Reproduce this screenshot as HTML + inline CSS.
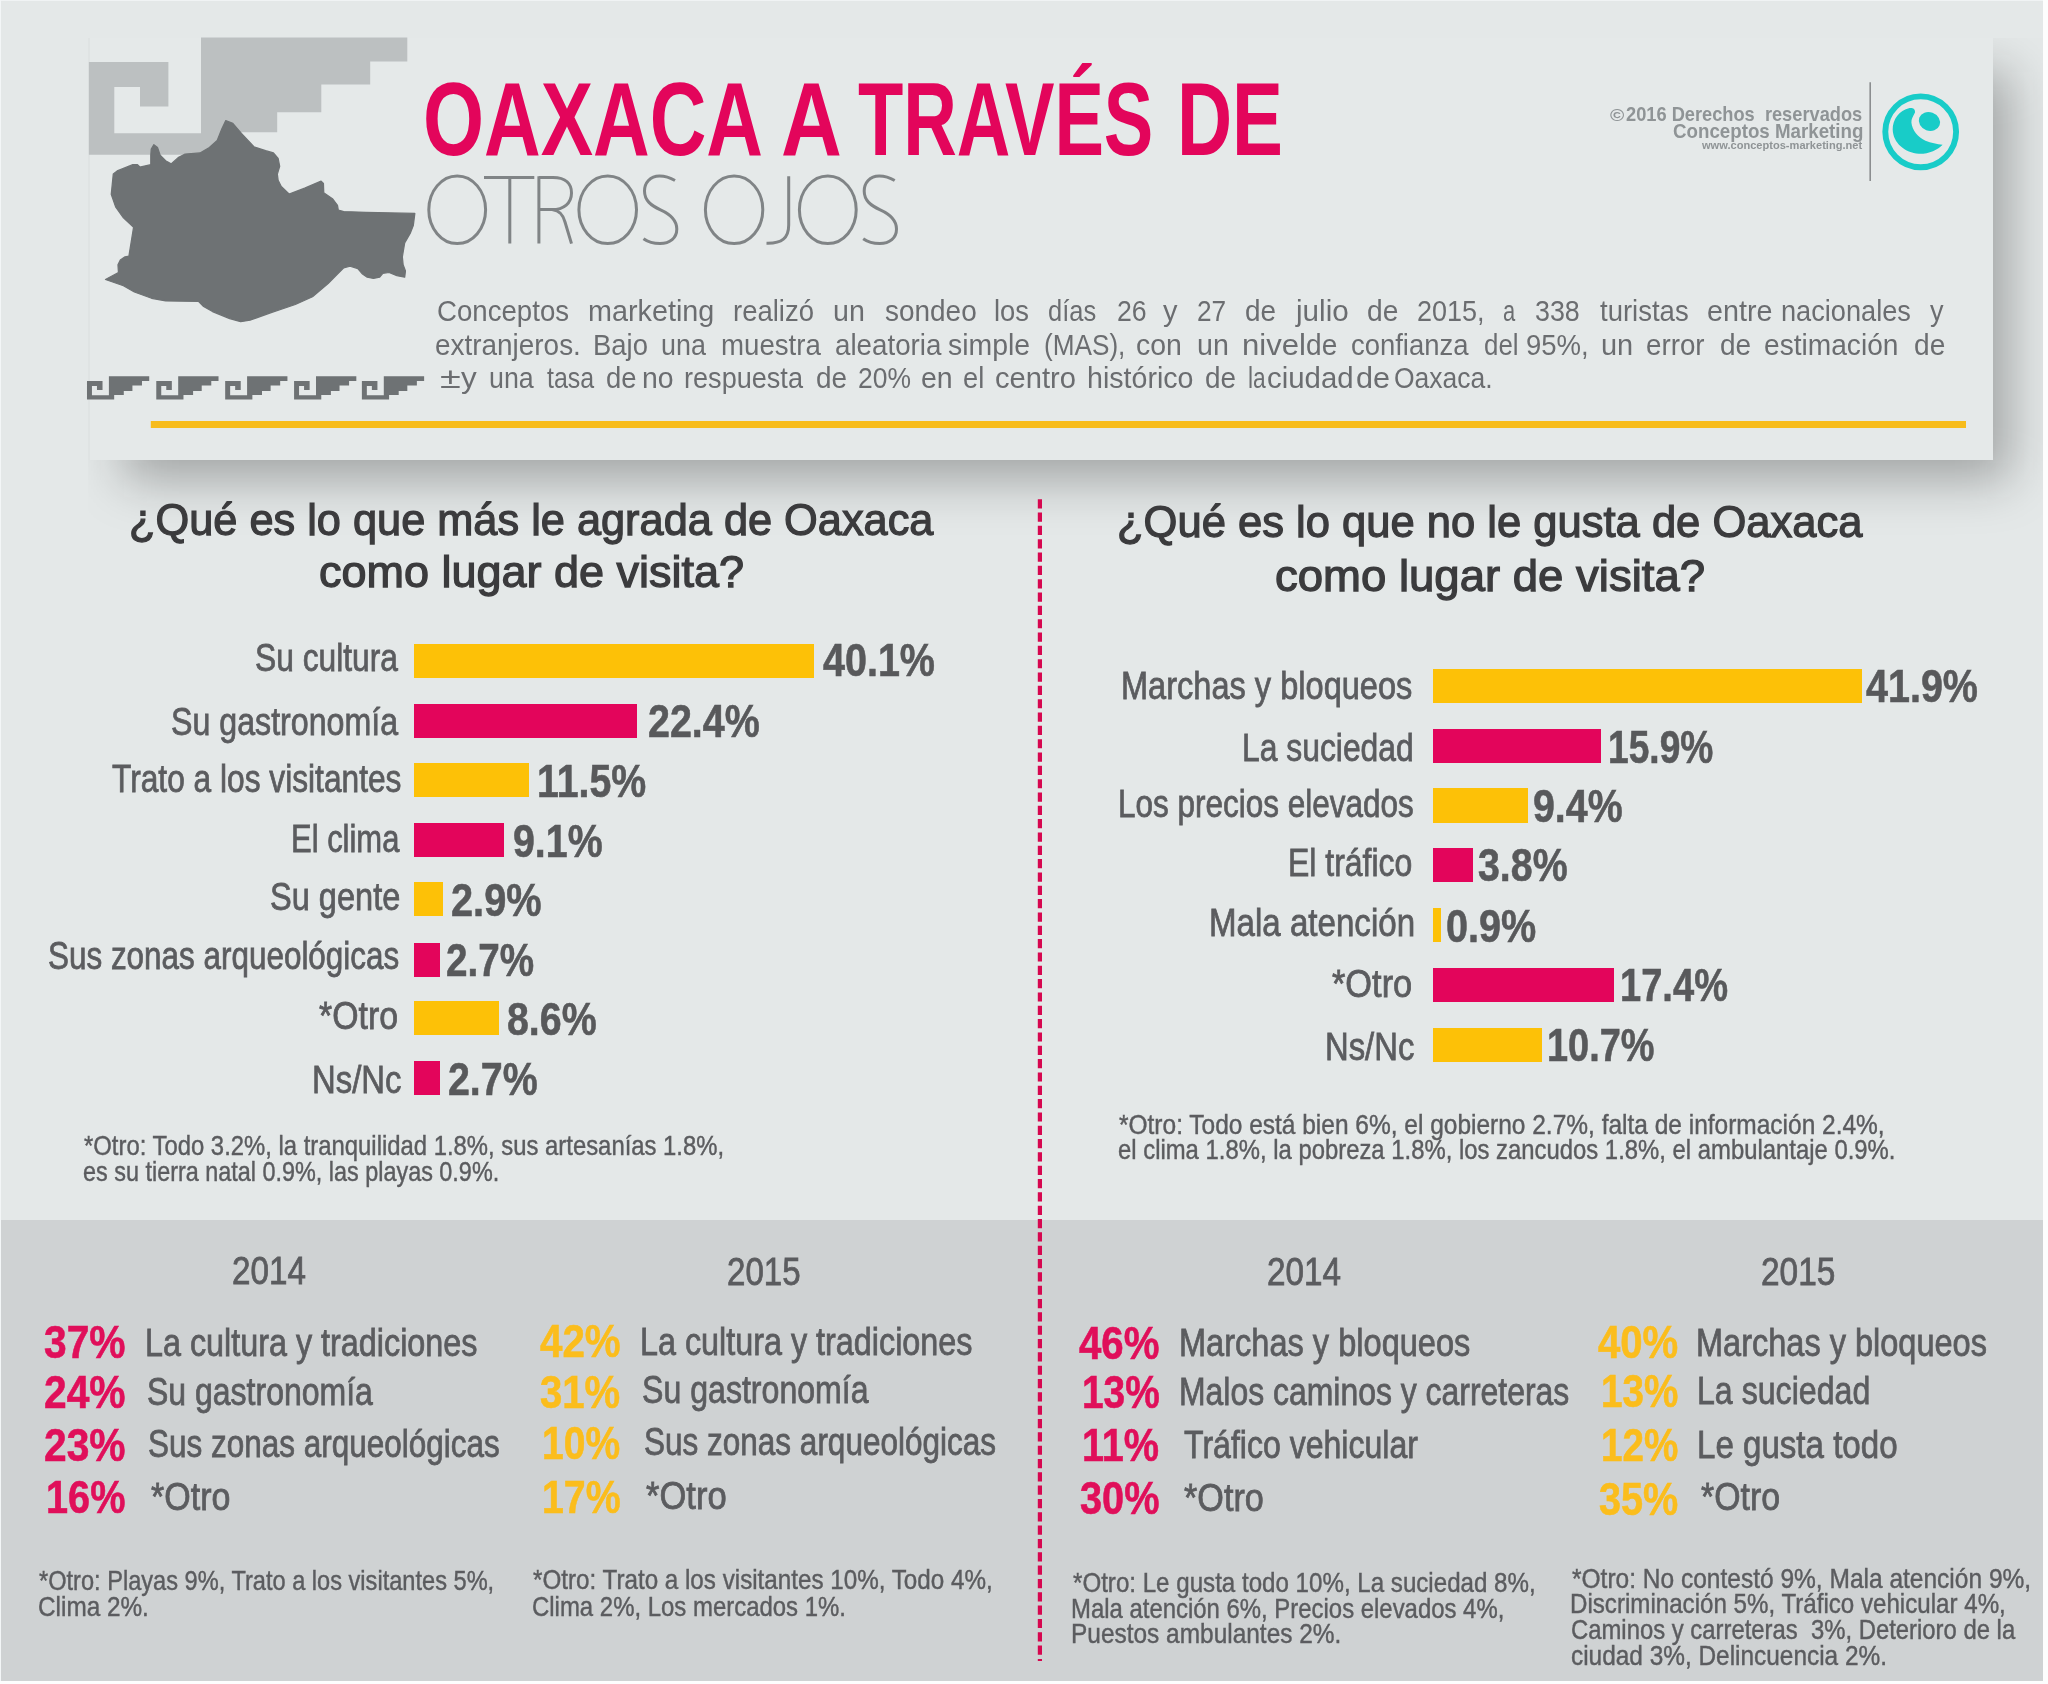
<!DOCTYPE html>
<html lang="es">
<head>
<meta charset="utf-8">
<title>Oaxaca a través de otros ojos</title>
<style>
html,body{margin:0;padding:0;}
body{width:2048px;height:1684px;overflow:hidden;background:#fdfdfd;font-family:"Liberation Sans",sans-serif;position:relative;}
#page{position:absolute;left:0;top:0;width:2043px;height:1681px;background:#e4e8e8;overflow:hidden;}
#band{position:absolute;left:0;top:1219.5px;width:2043px;height:462px;background:#cfd2d3;}
#card{position:absolute;left:88px;top:38px;width:1905px;height:421.5px;background:#e5e9e9;}
#shclip{position:absolute;left:88px;top:38px;width:1960px;height:700px;overflow:hidden;}
#shadow{position:absolute;left:36px;top:34px;width:1886px;height:408px;background:rgba(10,10,10,0.30);filter:blur(25px);}
#art{position:absolute;left:0;top:0;width:2048px;height:1684px;}
.t{position:absolute;white-space:pre;line-height:1;transform-origin:0 0;letter-spacing:0;}
.bar{position:absolute;}
.y{background:#fdc107;}
.m{background:#e3055b;}
</style>
</head>
<body>
<div id="page">
<div id="band"></div>
<div style="position:absolute;left:0;top:0;width:2043px;height:1px;background:#f0f3f4"></div>
<div style="position:absolute;left:0;top:0;width:1px;height:1681px;background:#f3f6f7"></div>
<div id="shclip"><div id="shadow"></div></div>
<div id="card"></div>
<div style="position:absolute;left:87.5px;top:38px;width:2.5px;height:421.5px;background:#dfe3e3"></div>

<svg id="art" viewBox="0 0 2048 1684" width="2048" height="1684">
  <defs>
    <path id="greca" d="M88.9,62 H168.4 V106.5 H140 V87 H114.3 V133.3 H201 V37.6 H407.3 V61.6 H370.2 V84.5 H321.3 V112.2 H277.2 V132.3 H228 V154.8 H88.9 Z"/>
  </defs>
  <!-- big greca -->
  <use href="#greca" fill="#bcc0c1"/>
  <!-- small grecas -->
  <g fill="#6e7274">
    <use href="#greca" transform="translate(69.6,368.7) scale(0.1955,0.199)"/>
    <use href="#greca" transform="translate(138.9,368.7) scale(0.1955,0.199)"/>
    <use href="#greca" transform="translate(207.8,368.7) scale(0.1955,0.199)"/>
    <use href="#greca" transform="translate(276.7,368.7) scale(0.1955,0.199)"/>
    <use href="#greca" transform="translate(344.5,368.7) scale(0.1955,0.199)"/>
  </g>
  <!-- Oaxaca map -->
  <g transform="translate(100,110) scale(0.15625)">
    <path fill="#6e7274" stroke="#6e7274" stroke-width="8" stroke-linejoin="round" d="M325,290 L328,250 L345,222 L368,240 L385,290 L420,325 L455,345 L500,305 L545,282 L640,275 L700,240 L750,195 L780,120 L805,68 L850,85 L905,150 L985,235 L1060,260 L1110,275 L1140,310 L1150,360 L1135,410 L1140,450 L1160,490 L1210,538 L1310,500 L1415,455 L1430,470 L1432,530 L1490,570 L1520,610 L1525,640 L1560,650 L1700,655 L2015,662 L2005,740 L1985,790 L1950,850 L1935,940 L1940,990 L1955,1030 L1950,1070 L1900,1060 L1850,1040 L1810,1045 L1790,1070 L1750,1078 L1710,1070 L1680,1050 L1650,1015 L1600,1000 L1560,1010 L1520,1050 L1460,1110 L1360,1195 L1250,1245 L1100,1295 L960,1345 L900,1355 L830,1335 L720,1290 L660,1255 L630,1225 L420,1222 L330,1205 L220,1165 L150,1125 L35,1085 L118,1040 L115,990 L130,960 L160,940 L185,935 L215,750 L150,690 L100,620 L72,540 L85,410 L110,390 L210,350 L240,350 L255,365 L325,350 Z"/>
  </g>
  <!-- OTROS OJOS (thin strokes) -->
  <g fill="none" stroke="#808486" stroke-width="3" stroke-linecap="butt">
    <ellipse cx="457.2" cy="209.8" rx="28.4" ry="33.8"/>
    <path d="M484,177.6 H534.3 M509.8,177.6 V243.6"/>
    <path d="M538.9,176.2 V243.6 M538.9,177.6 H553 C566,177.6 571.5,184 571.5,193 C571.5,203 564,209.6 552,209.6 H538.9 M552,209.6 C560,210.5 563,215 565,222 L571.5,243.6"/>
    <ellipse cx="607.7" cy="209.8" rx="28.8" ry="33.8"/>
    <path d="M675,180.5 C670,177.5 665,176 659.5,176 C650,176 644.5,183 644.5,191 C644.5,200.5 651,205.5 660.5,209.8 C671,214.5 676.8,220 676.8,229 C676.8,238 670,243.6 660,243.6 C654,243.6 648,242 643.5,238.8"/>
    <ellipse cx="734.1" cy="209.8" rx="28.7" ry="33.8"/>
    <path d="M788.7,176.2 V225 C788.7,238 782,243.6 766.5,243.2"/>
    <ellipse cx="827.8" cy="209.8" rx="28.4" ry="33.8"/>
    <path transform="translate(219.7,0)" d="M675,180.5 C670,177.5 665,176 659.5,176 C650,176 644.5,183 644.5,191 C644.5,200.5 651,205.5 660.5,209.8 C671,214.5 676.8,220 676.8,229 C676.8,238 670,243.6 660,243.6 C654,243.6 648,242 643.5,238.8"/>
  </g>
  <!-- yellow rule -->
  <rect x="150.8" y="421" width="1815.2" height="7" fill="#f7bc1c"/>
  <!-- logo -->
  <line x1="1870.2" y1="82.3" x2="1870.2" y2="180.9" stroke="#8b8e90" stroke-width="1.6"/>
  <g>
    <circle cx="1920.7" cy="131.8" r="35.4" fill="none" stroke="#18ccc8" stroke-width="5.9"/>
    <path fill="#18ccc8" d="M1909.6,108.1 C1912.5,107.6 1915.5,109 1915,112.5 C1913,116.5 1911.2,119 1911.4,122.5 C1912,130 1918,137.5 1925.5,140.7 C1931,143 1937,144 1942.6,144.7 C1938,150 1928,154.2 1918.8,153.8 C1905,153 1893,143 1892.7,129.6 C1892.5,120 1899,110.5 1909.6,108.1 Z"/>
    <ellipse cx="1929.4" cy="121.5" rx="10.8" ry="9.2" transform="rotate(20 1929.4 121.5)" fill="#18ccc8"/>
  </g>
  <!-- dashed divider -->
  <line x1="1039.9" y1="499.2" x2="1039.9" y2="1661" stroke="#d6074f" stroke-width="4.2" stroke-dasharray="9.2 4.13"/>
</svg>

<!-- left bars -->
<div class="bar y" style="left:414.2px;top:643.5px;width:399.8px;height:34.2px"></div>
<div class="bar m" style="left:414.2px;top:703.8px;width:222.8px;height:34px"></div>
<div class="bar y" style="left:414.2px;top:762.7px;width:114.8px;height:34.4px"></div>
<div class="bar m" style="left:414.2px;top:823px;width:89.9px;height:34.2px"></div>
<div class="bar y" style="left:414.2px;top:882.2px;width:29.1px;height:34.1px"></div>
<div class="bar m" style="left:414.2px;top:942.7px;width:25.4px;height:33.9px"></div>
<div class="bar y" style="left:414.2px;top:1001.1px;width:84.5px;height:33.9px"></div>
<div class="bar m" style="left:414.2px;top:1061.3px;width:25.4px;height:34.2px"></div>
<!-- right bars -->
<div class="bar y" style="left:1433px;top:669.1px;width:428.5px;height:34px"></div>
<div class="bar m" style="left:1433px;top:728.7px;width:168px;height:34.2px"></div>
<div class="bar y" style="left:1433px;top:788.3px;width:94.8px;height:34.3px"></div>
<div class="bar m" style="left:1433px;top:848.3px;width:40.3px;height:34.2px"></div>
<div class="bar y" style="left:1432.7px;top:908.2px;width:8.6px;height:33.9px"></div>
<div class="bar m" style="left:1433px;top:968.1px;width:181.2px;height:33.9px"></div>
<div class="bar y" style="left:1433px;top:1027.8px;width:109.1px;height:34.2px"></div>

<div id="texts" style="position:absolute;left:0;top:0;width:2043px;height:1681px;will-change:transform;">
<span class="t" style="left:423.30px;top:67.34px;font-size:104.5px;font-weight:700;color:#e3055b;transform:scaleX(0.7507);">OAXACA</span>
<span class="t" style="left:781.19px;top:67.34px;font-size:104.5px;font-weight:700;color:#e3055b;transform:scaleX(0.8056);">A</span>
<span class="t" style="left:858.39px;top:67.34px;font-size:104.5px;font-weight:700;color:#e3055b;transform:scaleX(0.7097);">TRAVÉS</span>
<span class="t" style="left:1177.02px;top:67.34px;font-size:104.5px;font-weight:700;color:#e3055b;transform:scaleX(0.7300);">DE</span>
<span class="t" style="left:436.63px;top:296.89px;font-size:28.6px;font-weight:400;color:#6b6d70;transform:scaleX(0.9660);">Conceptos</span>
<span class="t" style="left:587.69px;top:296.89px;font-size:28.6px;font-weight:400;color:#6b6d70;transform:scaleX(1.0061);">marketing</span>
<span class="t" style="left:733.24px;top:296.89px;font-size:28.6px;font-weight:400;color:#6b6d70;transform:scaleX(0.9620);">realizó</span>
<span class="t" style="left:833.30px;top:296.89px;font-size:28.6px;font-weight:400;color:#6b6d70;transform:scaleX(0.9997);">un</span>
<span class="t" style="left:884.60px;top:296.89px;font-size:28.6px;font-weight:400;color:#6b6d70;transform:scaleX(0.9773);">sondeo</span>
<span class="t" style="left:993.94px;top:296.89px;font-size:28.6px;font-weight:400;color:#6b6d70;transform:scaleX(0.9584);">los</span>
<span class="t" style="left:1048.11px;top:296.89px;font-size:28.6px;font-weight:400;color:#6b6d70;transform:scaleX(0.8910);">días</span>
<span class="t" style="left:1116.67px;top:296.89px;font-size:28.6px;font-weight:400;color:#6b6d70;transform:scaleX(0.9328);">26</span>
<span class="t" style="left:1163.30px;top:296.89px;font-size:28.6px;font-weight:400;color:#6b6d70;transform:scaleX(1.0133);">y</span>
<span class="t" style="left:1196.68px;top:296.89px;font-size:28.6px;font-weight:400;color:#6b6d70;transform:scaleX(0.9161);">27</span>
<span class="t" style="left:1245.32px;top:296.89px;font-size:28.6px;font-weight:400;color:#6b6d70;transform:scaleX(0.9763);">de</span>
<span class="t" style="left:1295.64px;top:296.89px;font-size:28.6px;font-weight:400;color:#6b6d70;transform:scaleX(1.0359);">julio</span>
<span class="t" style="left:1367.01px;top:296.89px;font-size:28.6px;font-weight:400;color:#6b6d70;transform:scaleX(0.9863);">de</span>
<span class="t" style="left:1417.16px;top:296.89px;font-size:28.6px;font-weight:400;color:#6b6d70;transform:scaleX(0.9444);">2015,</span>
<span class="t" style="left:1502.73px;top:296.89px;font-size:28.6px;font-weight:400;color:#6b6d70;transform:scaleX(0.7665);">a</span>
<span class="t" style="left:1535.26px;top:296.89px;font-size:28.6px;font-weight:400;color:#6b6d70;transform:scaleX(0.9385);">338</span>
<span class="t" style="left:1599.80px;top:296.89px;font-size:28.6px;font-weight:400;color:#6b6d70;transform:scaleX(0.9622);">turistas</span>
<span class="t" style="left:1706.80px;top:296.89px;font-size:28.6px;font-weight:400;color:#6b6d70;transform:scaleX(1.0050);">entre</span>
<span class="t" style="left:1781.05px;top:296.89px;font-size:28.6px;font-weight:400;color:#6b6d70;transform:scaleX(0.9504);">nacionales</span>
<span class="t" style="left:1930.40px;top:296.89px;font-size:28.6px;font-weight:400;color:#6b6d70;transform:scaleX(0.9467);">y</span>
<span class="t" style="left:435.32px;top:330.79px;font-size:28.6px;font-weight:400;color:#6b6d70;transform:scaleX(0.9764);">extranjeros.</span>
<span class="t" style="left:593.08px;top:330.79px;font-size:28.6px;font-weight:400;color:#6b6d70;transform:scaleX(0.9589);">Bajo</span>
<span class="t" style="left:661.36px;top:330.79px;font-size:28.6px;font-weight:400;color:#6b6d70;transform:scaleX(0.9398);">una</span>
<span class="t" style="left:721.03px;top:330.79px;font-size:28.6px;font-weight:400;color:#6b6d70;transform:scaleX(0.9668);">muestra</span>
<span class="t" style="left:835.33px;top:330.79px;font-size:28.6px;font-weight:400;color:#6b6d70;transform:scaleX(0.9698);">aleatoria</span>
<span class="t" style="left:948.20px;top:330.79px;font-size:28.6px;font-weight:400;color:#6b6d70;transform:scaleX(0.9946);">simple</span>
<span class="t" style="left:1044.28px;top:330.79px;font-size:28.6px;font-weight:400;color:#6b6d70;transform:scaleX(0.9150);">(MAS),</span>
<span class="t" style="left:1136.10px;top:330.79px;font-size:28.6px;font-weight:400;color:#6b6d70;transform:scaleX(0.9953);">con</span>
<span class="t" style="left:1196.60px;top:330.79px;font-size:28.6px;font-weight:400;color:#6b6d70;transform:scaleX(0.9997);">un</span>
<span class="t" style="left:1241.71px;top:330.79px;font-size:28.6px;font-weight:400;color:#6b6d70;transform:scaleX(1.0875);">nivel</span>
<span class="t" style="left:1306.32px;top:330.79px;font-size:28.6px;font-weight:400;color:#6b6d70;transform:scaleX(0.9829);">de</span>
<span class="t" style="left:1351.14px;top:330.79px;font-size:28.6px;font-weight:400;color:#6b6d70;transform:scaleX(0.9596);">confianza</span>
<span class="t" style="left:1483.80px;top:330.79px;font-size:28.6px;font-weight:400;color:#6b6d70;transform:scaleX(0.9045);">del</span>
<span class="t" style="left:1525.84px;top:330.79px;font-size:28.6px;font-weight:400;color:#6b6d70;transform:scaleX(0.9624);">95%,</span>
<span class="t" style="left:1600.89px;top:330.79px;font-size:28.6px;font-weight:400;color:#6b6d70;transform:scaleX(1.0130);">un</span>
<span class="t" style="left:1646.33px;top:330.79px;font-size:28.6px;font-weight:400;color:#6b6d70;transform:scaleX(0.9707);">error</span>
<span class="t" style="left:1719.92px;top:330.79px;font-size:28.6px;font-weight:400;color:#6b6d70;transform:scaleX(0.9796);">de</span>
<span class="t" style="left:1764.42px;top:330.79px;font-size:28.6px;font-weight:400;color:#6b6d70;transform:scaleX(0.9838);">estimación</span>
<span class="t" style="left:1913.62px;top:330.79px;font-size:28.6px;font-weight:400;color:#6b6d70;transform:scaleX(0.9829);">de</span>
<span class="t" style="left:439.60px;top:364.29px;font-size:28.6px;font-weight:400;color:#6b6d70;transform:scaleX(1.3258);">±</span>
<span class="t" style="left:460.50px;top:364.29px;font-size:28.6px;font-weight:400;color:#6b6d70;transform:scaleX(1.1000);">y</span>
<span class="t" style="left:488.76px;top:364.29px;font-size:28.6px;font-weight:400;color:#6b6d70;transform:scaleX(0.9377);">una</span>
<span class="t" style="left:547.30px;top:364.29px;font-size:28.6px;font-weight:400;color:#6b6d70;transform:scaleX(0.8717);">tasa</span>
<span class="t" style="left:606.04px;top:364.29px;font-size:28.6px;font-weight:400;color:#6b6d70;transform:scaleX(0.9595);">de</span>
<span class="t" style="left:641.81px;top:364.29px;font-size:28.6px;font-weight:400;color:#6b6d70;transform:scaleX(0.9930);">no</span>
<span class="t" style="left:684.25px;top:364.29px;font-size:28.6px;font-weight:400;color:#6b6d70;transform:scaleX(0.9473);">respuesta</span>
<span class="t" style="left:815.52px;top:364.29px;font-size:28.6px;font-weight:400;color:#6b6d70;transform:scaleX(0.9763);">de</span>
<span class="t" style="left:858.18px;top:364.29px;font-size:28.6px;font-weight:400;color:#6b6d70;transform:scaleX(0.9246);">20%</span>
<span class="t" style="left:921.00px;top:364.29px;font-size:28.6px;font-weight:400;color:#6b6d70;transform:scaleX(0.9963);">en</span>
<span class="t" style="left:963.05px;top:364.29px;font-size:28.6px;font-weight:400;color:#6b6d70;transform:scaleX(0.9542);">el</span>
<span class="t" style="left:995.18px;top:364.29px;font-size:28.6px;font-weight:400;color:#6b6d70;transform:scaleX(1.0183);">centro</span>
<span class="t" style="left:1086.90px;top:364.29px;font-size:28.6px;font-weight:400;color:#6b6d70;transform:scaleX(1.0002);">histórico</span>
<span class="t" style="left:1204.72px;top:364.29px;font-size:28.6px;font-weight:400;color:#6b6d70;transform:scaleX(0.9763);">de</span>
<span class="t" style="left:1247.60px;top:364.29px;font-size:28.6px;font-weight:400;color:#6b6d70;transform:scaleX(0.7958);">la</span>
<span class="t" style="left:1266.87px;top:364.29px;font-size:28.6px;font-weight:400;color:#6b6d70;transform:scaleX(1.0272);">ciudad</span>
<span class="t" style="left:1355.93px;top:364.29px;font-size:28.6px;font-weight:400;color:#6b6d70;transform:scaleX(1.0699);">de</span>
<span class="t" style="left:1393.57px;top:364.29px;font-size:28.6px;font-weight:400;color:#6b6d70;transform:scaleX(0.9270);">Oaxaca.</span>
<span class="t" style="left:1610.30px;top:106.87px;font-size:17.4px;font-weight:700;color:#8f9496;transform:scaleX(1.1141);">©</span>
<span class="t" style="left:1625.70px;top:104.30px;font-size:20.2px;font-weight:700;color:#8f9496;transform:scaleX(0.9033);">2016 Derechos  reservados</span>
<span class="t" style="left:1672.50px;top:121.40px;font-size:20.2px;font-weight:700;color:#8f9496;transform:scaleX(0.9277);">Conceptos Marketing</span>
<span class="t" style="left:1701.91px;top:140.39px;font-size:11px;font-weight:700;color:#8f9496;transform:scaleX(1.0065);">www.conceptos-marketing.net</span>
<span class="t" style="left:129.03px;top:498.25px;font-size:44px;font-weight:400;color:#3b3b3d;transform:scaleX(0.9847);-webkit-text-stroke:1.25px currentColor;">¿Qué es lo que más le agrada de Oaxaca</span>
<span class="t" style="left:318.98px;top:550.25px;font-size:44px;font-weight:400;color:#3b3b3d;transform:scaleX(1.0223);-webkit-text-stroke:1.25px currentColor;">como lugar de visita?</span>
<span class="t" style="left:1117.02px;top:500.25px;font-size:44px;font-weight:400;color:#3b3b3d;transform:scaleX(0.9895);-webkit-text-stroke:1.25px currentColor;">¿Qué es lo que no le gusta de Oaxaca</span>
<span class="t" style="left:1275.47px;top:554.25px;font-size:44px;font-weight:400;color:#3b3b3d;transform:scaleX(1.0344);-webkit-text-stroke:1.25px currentColor;">como lugar de visita?</span>
<span class="t" style="left:254.50px;top:637.98px;font-size:39.6px;font-weight:400;color:#5b5c5f;transform:scaleX(0.8025);-webkit-text-stroke:0.8px currentColor;">Su cultura</span>
<span class="t" style="left:170.89px;top:701.98px;font-size:39.6px;font-weight:400;color:#5b5c5f;transform:scaleX(0.8128);-webkit-text-stroke:0.8px currentColor;">Su gastronomía</span>
<span class="t" style="left:111.50px;top:759.48px;font-size:39.6px;font-weight:400;color:#5b5c5f;transform:scaleX(0.8007);-webkit-text-stroke:0.8px currentColor;">Trato a los visitantes</span>
<span class="t" style="left:291.15px;top:818.98px;font-size:39.6px;font-weight:400;color:#5b5c5f;transform:scaleX(0.7822);-webkit-text-stroke:0.8px currentColor;">El clima</span>
<span class="t" style="left:269.88px;top:877.48px;font-size:39.6px;font-weight:400;color:#5b5c5f;transform:scaleX(0.8227);-webkit-text-stroke:0.8px currentColor;">Su gente</span>
<span class="t" style="left:48.21px;top:936.48px;font-size:39.6px;font-weight:400;color:#5b5c5f;transform:scaleX(0.7942);-webkit-text-stroke:0.8px currentColor;">Sus zonas arqueológicas</span>
<span class="t" style="left:319.30px;top:995.98px;font-size:39.6px;font-weight:400;color:#5b5c5f;transform:scaleX(0.8559);-webkit-text-stroke:0.8px currentColor;">*Otro</span>
<span class="t" style="left:311.51px;top:1060.48px;font-size:39.6px;font-weight:400;color:#5b5c5f;transform:scaleX(0.8301);-webkit-text-stroke:0.8px currentColor;">Ns/Nc</span>
<span class="t" style="left:823.40px;top:636.91px;font-size:46.3px;font-weight:700;color:#58595b;transform:scaleX(0.8531);-webkit-text-stroke:0.6px currentColor;">40.1%</span>
<span class="t" style="left:648.15px;top:698.31px;font-size:46.3px;font-weight:700;color:#58595b;transform:scaleX(0.8519);-webkit-text-stroke:0.6px currentColor;">22.4%</span>
<span class="t" style="left:537.20px;top:758.21px;font-size:46.3px;font-weight:700;color:#58595b;transform:scaleX(0.8490);-webkit-text-stroke:0.6px currentColor;">11.5%</span>
<span class="t" style="left:512.95px;top:818.31px;font-size:46.3px;font-weight:700;color:#58595b;transform:scaleX(0.8494);-webkit-text-stroke:0.6px currentColor;">9.1%</span>
<span class="t" style="left:451.44px;top:877.11px;font-size:46.3px;font-weight:700;color:#58595b;transform:scaleX(0.8581);-webkit-text-stroke:0.6px currentColor;">2.9%</span>
<span class="t" style="left:446.37px;top:936.81px;font-size:46.3px;font-weight:700;color:#58595b;transform:scaleX(0.8349);-webkit-text-stroke:0.6px currentColor;">2.7%</span>
<span class="t" style="left:506.85px;top:995.81px;font-size:46.3px;font-weight:700;color:#58595b;transform:scaleX(0.8494);-webkit-text-stroke:0.6px currentColor;">8.6%</span>
<span class="t" style="left:447.85px;top:1056.31px;font-size:46.3px;font-weight:700;color:#58595b;transform:scaleX(0.8494);-webkit-text-stroke:0.6px currentColor;">2.7%</span>
<span class="t" style="left:84.00px;top:1130.77px;font-size:28.5px;font-weight:400;color:#5b5c5f;transform:scaleX(0.8371);-webkit-text-stroke:0.45px currentColor;">*Otro: Todo 3.2%, la tranquilidad 1.8%, sus artesanías 1.8%,</span>
<span class="t" style="left:83.38px;top:1156.77px;font-size:28.5px;font-weight:400;color:#5b5c5f;transform:scaleX(0.8210);-webkit-text-stroke:0.45px currentColor;">es su tierra natal 0.9%, las playas 0.9%.</span>
<span class="t" style="left:1121.13px;top:665.78px;font-size:39.6px;font-weight:400;color:#5b5c5f;transform:scaleX(0.8225);-webkit-text-stroke:0.8px currentColor;">Marchas y bloqueos</span>
<span class="t" style="left:1242.29px;top:727.88px;font-size:39.6px;font-weight:400;color:#5b5c5f;transform:scaleX(0.8045);-webkit-text-stroke:0.8px currentColor;">La suciedad</span>
<span class="t" style="left:1118.21px;top:783.88px;font-size:39.6px;font-weight:400;color:#5b5c5f;transform:scaleX(0.7953);-webkit-text-stroke:0.8px currentColor;">Los precios elevados</span>
<span class="t" style="left:1288.28px;top:843.48px;font-size:39.6px;font-weight:400;color:#5b5c5f;transform:scaleX(0.8076);-webkit-text-stroke:0.8px currentColor;">El tráfico</span>
<span class="t" style="left:1208.99px;top:902.78px;font-size:39.6px;font-weight:400;color:#5b5c5f;transform:scaleX(0.8363);-webkit-text-stroke:0.8px currentColor;">Mala atención</span>
<span class="t" style="left:1331.70px;top:963.98px;font-size:39.6px;font-weight:400;color:#5b5c5f;transform:scaleX(0.8680);-webkit-text-stroke:0.8px currentColor;">*Otro</span>
<span class="t" style="left:1324.71px;top:1027.48px;font-size:39.6px;font-weight:400;color:#5b5c5f;transform:scaleX(0.8292);-webkit-text-stroke:0.8px currentColor;">Ns/Nc</span>
<span class="t" style="left:1865.50px;top:663.31px;font-size:46.3px;font-weight:700;color:#58595b;transform:scaleX(0.8531);-webkit-text-stroke:0.6px currentColor;">41.9%</span>
<span class="t" style="left:1608.49px;top:723.71px;font-size:46.3px;font-weight:700;color:#58595b;transform:scaleX(0.8032);-webkit-text-stroke:0.6px currentColor;">15.9%</span>
<span class="t" style="left:1532.65px;top:783.41px;font-size:46.3px;font-weight:700;color:#58595b;transform:scaleX(0.8494);-webkit-text-stroke:0.6px currentColor;">9.4%</span>
<span class="t" style="left:1477.55px;top:842.41px;font-size:46.3px;font-weight:700;color:#58595b;transform:scaleX(0.8494);-webkit-text-stroke:0.6px currentColor;">3.8%</span>
<span class="t" style="left:1445.84px;top:902.91px;font-size:46.3px;font-weight:700;color:#58595b;transform:scaleX(0.8552);-webkit-text-stroke:0.6px currentColor;">0.9%</span>
<span class="t" style="left:1619.75px;top:962.21px;font-size:46.3px;font-weight:700;color:#58595b;transform:scaleX(0.8227);-webkit-text-stroke:0.6px currentColor;">17.4%</span>
<span class="t" style="left:1546.56px;top:1021.81px;font-size:46.3px;font-weight:700;color:#58595b;transform:scaleX(0.8196);-webkit-text-stroke:0.6px currentColor;">10.7%</span>
<span class="t" style="left:1119.00px;top:1109.87px;font-size:28.5px;font-weight:400;color:#5b5c5f;transform:scaleX(0.8589);-webkit-text-stroke:0.45px currentColor;">*Otro: Todo está bien 6%, el gobierno 2.7%, falta de información 2.4%,</span>
<span class="t" style="left:1118.16px;top:1134.87px;font-size:28.5px;font-weight:400;color:#5b5c5f;transform:scaleX(0.8374);-webkit-text-stroke:0.45px currentColor;">el clima 1.8%, la pobreza 1.8%, los zancudos 1.8%, el ambulantaje 0.9%.</span>
<span class="t" style="left:232.04px;top:1252.29px;font-size:38.4px;font-weight:400;color:#5b5c5f;transform:scaleX(0.8649);-webkit-text-stroke:0.8px currentColor;">2014</span>
<span class="t" style="left:727.04px;top:1252.79px;font-size:38.4px;font-weight:400;color:#5b5c5f;transform:scaleX(0.8609);-webkit-text-stroke:0.8px currentColor;">2015</span>
<span class="t" style="left:1266.83px;top:1252.69px;font-size:38.4px;font-weight:400;color:#5b5c5f;transform:scaleX(0.8673);-webkit-text-stroke:0.8px currentColor;">2014</span>
<span class="t" style="left:1760.53px;top:1252.99px;font-size:38.4px;font-weight:400;color:#5b5c5f;transform:scaleX(0.8705);-webkit-text-stroke:0.8px currentColor;">2015</span>
<span class="t" style="left:44.01px;top:1320.40px;font-size:45.6px;font-weight:700;color:#e00f5a;transform:scaleX(0.8938);-webkit-text-stroke:0.6px currentColor;">37%</span>
<span class="t" style="left:44.01px;top:1369.50px;font-size:45.6px;font-weight:700;color:#e00f5a;transform:scaleX(0.8938);-webkit-text-stroke:0.6px currentColor;">24%</span>
<span class="t" style="left:44.01px;top:1422.50px;font-size:45.6px;font-weight:700;color:#e00f5a;transform:scaleX(0.8938);-webkit-text-stroke:0.6px currentColor;">23%</span>
<span class="t" style="left:46.16px;top:1475.30px;font-size:45.6px;font-weight:700;color:#e00f5a;transform:scaleX(0.8701);-webkit-text-stroke:0.6px currentColor;">16%</span>
<span class="t" style="left:145.05px;top:1322.78px;font-size:39.6px;font-weight:400;color:#5b5c5f;transform:scaleX(0.8169);-webkit-text-stroke:0.8px currentColor;">La cultura y tradiciones</span>
<span class="t" style="left:147.39px;top:1372.08px;font-size:39.6px;font-weight:400;color:#5b5c5f;transform:scaleX(0.8085);-webkit-text-stroke:0.8px currentColor;">Su gastronomía</span>
<span class="t" style="left:148.20px;top:1423.58px;font-size:39.6px;font-weight:400;color:#5b5c5f;transform:scaleX(0.7953);-webkit-text-stroke:0.8px currentColor;">Sus zonas arqueológicas</span>
<span class="t" style="left:150.70px;top:1476.68px;font-size:39.6px;font-weight:400;color:#5b5c5f;transform:scaleX(0.8592);-webkit-text-stroke:0.8px currentColor;">*Otro</span>
<span class="t" style="left:539.90px;top:1319.20px;font-size:45.6px;font-weight:700;color:#fbbd1c;transform:scaleX(0.8840);-webkit-text-stroke:0.6px currentColor;">42%</span>
<span class="t" style="left:540.32px;top:1369.50px;font-size:45.6px;font-weight:700;color:#fbbd1c;transform:scaleX(0.8793);-webkit-text-stroke:0.6px currentColor;">31%</span>
<span class="t" style="left:542.49px;top:1421.30px;font-size:45.6px;font-weight:700;color:#fbbd1c;transform:scaleX(0.8554);-webkit-text-stroke:0.6px currentColor;">10%</span>
<span class="t" style="left:541.98px;top:1474.60px;font-size:45.6px;font-weight:700;color:#fbbd1c;transform:scaleX(0.8611);-webkit-text-stroke:0.6px currentColor;">17%</span>
<span class="t" style="left:640.05px;top:1321.78px;font-size:39.6px;font-weight:400;color:#5b5c5f;transform:scaleX(0.8169);-webkit-text-stroke:0.8px currentColor;">La cultura y tradiciones</span>
<span class="t" style="left:642.49px;top:1370.28px;font-size:39.6px;font-weight:400;color:#5b5c5f;transform:scaleX(0.8110);-webkit-text-stroke:0.8px currentColor;">Su gastronomía</span>
<span class="t" style="left:644.20px;top:1421.88px;font-size:39.6px;font-weight:400;color:#5b5c5f;transform:scaleX(0.7960);-webkit-text-stroke:0.8px currentColor;">Sus zonas arqueológicas</span>
<span class="t" style="left:645.70px;top:1475.88px;font-size:39.6px;font-weight:400;color:#5b5c5f;transform:scaleX(0.8723);-webkit-text-stroke:0.8px currentColor;">*Otro</span>
<span class="t" style="left:1079.00px;top:1320.70px;font-size:45.6px;font-weight:700;color:#e00f5a;transform:scaleX(0.8818);-webkit-text-stroke:0.6px currentColor;">46%</span>
<span class="t" style="left:1081.70px;top:1370.30px;font-size:45.6px;font-weight:700;color:#e00f5a;transform:scaleX(0.8521);-webkit-text-stroke:0.6px currentColor;">13%</span>
<span class="t" style="left:1082.36px;top:1422.80px;font-size:45.6px;font-weight:700;color:#e00f5a;transform:scaleX(0.8688);-webkit-text-stroke:0.6px currentColor;">11%</span>
<span class="t" style="left:1079.93px;top:1476.40px;font-size:45.6px;font-weight:700;color:#e00f5a;transform:scaleX(0.8715);-webkit-text-stroke:0.6px currentColor;">30%</span>
<span class="t" style="left:1179.43px;top:1323.28px;font-size:39.6px;font-weight:400;color:#5b5c5f;transform:scaleX(0.8225);-webkit-text-stroke:0.8px currentColor;">Marchas y bloqueos</span>
<span class="t" style="left:1179.48px;top:1371.58px;font-size:39.6px;font-weight:400;color:#5b5c5f;transform:scaleX(0.8065);-webkit-text-stroke:0.8px currentColor;">Malos caminos y carreteras</span>
<span class="t" style="left:1183.70px;top:1425.38px;font-size:39.6px;font-weight:400;color:#5b5c5f;transform:scaleX(0.8099);-webkit-text-stroke:0.8px currentColor;">Tráfico vehicular</span>
<span class="t" style="left:1183.70px;top:1477.68px;font-size:39.6px;font-weight:400;color:#5b5c5f;transform:scaleX(0.8636);-webkit-text-stroke:0.8px currentColor;">*Otro</span>
<span class="t" style="left:1598.00px;top:1320.40px;font-size:45.6px;font-weight:700;color:#fbbd1c;transform:scaleX(0.8796);-webkit-text-stroke:0.6px currentColor;">40%</span>
<span class="t" style="left:1601.01px;top:1369.40px;font-size:45.6px;font-weight:700;color:#fbbd1c;transform:scaleX(0.8464);-webkit-text-stroke:0.6px currentColor;">13%</span>
<span class="t" style="left:1601.01px;top:1422.60px;font-size:45.6px;font-weight:700;color:#fbbd1c;transform:scaleX(0.8464);-webkit-text-stroke:0.6px currentColor;">12%</span>
<span class="t" style="left:1599.03px;top:1476.80px;font-size:45.6px;font-weight:700;color:#fbbd1c;transform:scaleX(0.8682);-webkit-text-stroke:0.6px currentColor;">35%</span>
<span class="t" style="left:1696.34px;top:1323.18px;font-size:39.6px;font-weight:400;color:#5b5c5f;transform:scaleX(0.8213);-webkit-text-stroke:0.8px currentColor;">Marchas y bloqueos</span>
<span class="t" style="left:1697.06px;top:1370.98px;font-size:39.6px;font-weight:400;color:#5b5c5f;transform:scaleX(0.8117);-webkit-text-stroke:0.8px currentColor;">La suciedad</span>
<span class="t" style="left:1696.99px;top:1424.68px;font-size:39.6px;font-weight:400;color:#5b5c5f;transform:scaleX(0.8361);-webkit-text-stroke:0.8px currentColor;">Le gusta todo</span>
<span class="t" style="left:1700.70px;top:1477.18px;font-size:39.6px;font-weight:400;color:#5b5c5f;transform:scaleX(0.8559);-webkit-text-stroke:0.8px currentColor;">*Otro</span>
<span class="t" style="left:38.80px;top:1566.37px;font-size:28.5px;font-weight:400;color:#5b5c5f;transform:scaleX(0.8281);-webkit-text-stroke:0.45px currentColor;">*Otro: Playas 9%, Trato a los visitantes 5%,</span>
<span class="t" style="left:37.95px;top:1592.37px;font-size:28.5px;font-weight:400;color:#5b5c5f;transform:scaleX(0.8538);-webkit-text-stroke:0.45px currentColor;">Clima 2%.</span>
<span class="t" style="left:533.00px;top:1565.47px;font-size:28.5px;font-weight:400;color:#5b5c5f;transform:scaleX(0.8492);-webkit-text-stroke:0.45px currentColor;">*Otro: Trato a los visitantes 10%, Todo 4%,</span>
<span class="t" style="left:532.16px;top:1591.57px;font-size:28.5px;font-weight:400;color:#5b5c5f;transform:scaleX(0.8399);-webkit-text-stroke:0.45px currentColor;">Clima 2%, Los mercados 1%.</span>
<span class="t" style="left:1073.00px;top:1567.87px;font-size:28.5px;font-weight:400;color:#5b5c5f;transform:scaleX(0.8464);-webkit-text-stroke:0.45px currentColor;">*Otro: Le gusta todo 10%, La suciedad 8%,</span>
<span class="t" style="left:1071.32px;top:1593.87px;font-size:28.5px;font-weight:400;color:#5b5c5f;transform:scaleX(0.8390);-webkit-text-stroke:0.45px currentColor;">Mala atención 6%, Precios elevados 4%,</span>
<span class="t" style="left:1071.28px;top:1619.37px;font-size:28.5px;font-weight:400;color:#5b5c5f;transform:scaleX(0.8575);-webkit-text-stroke:0.45px currentColor;">Puestos ambulantes 2%.</span>
<span class="t" style="left:1571.50px;top:1564.37px;font-size:28.5px;font-weight:400;color:#5b5c5f;transform:scaleX(0.8600);-webkit-text-stroke:0.45px currentColor;">*Otro: No contestó 9%, Mala atención 9%,</span>
<span class="t" style="left:1569.81px;top:1589.37px;font-size:28.5px;font-weight:400;color:#5b5c5f;transform:scaleX(0.8466);-webkit-text-stroke:0.45px currentColor;">Discriminación 5%, Tráfico vehicular 4%,</span>
<span class="t" style="left:1570.66px;top:1615.37px;font-size:28.5px;font-weight:400;color:#5b5c5f;transform:scaleX(0.8371);-webkit-text-stroke:0.45px currentColor;">Caminos y carreteras  3%, Deterioro de la</span>
<span class="t" style="left:1570.64px;top:1641.37px;font-size:28.5px;font-weight:400;color:#5b5c5f;transform:scaleX(0.8560);-webkit-text-stroke:0.45px currentColor;">ciudad 3%, Delincuencia 2%.</span>
</div>
</div>
</body>
</html>
